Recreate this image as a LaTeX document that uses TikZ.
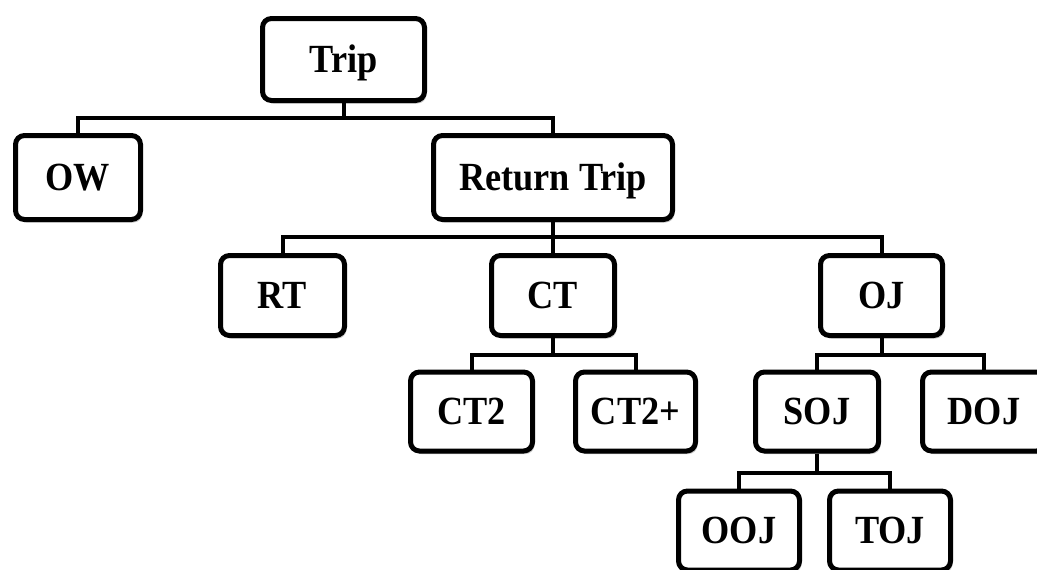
\documentclass[tikz,border=0pt]{standalone}
\usepackage{fontspec}
\usepackage{graphicx}
\setmainfont{Liberation Serif}
\usetikzlibrary{shadows}
\newcommand\boxlbl[1]{\scalebox{0.98}[1.08]{#1}}
\begin{document}
\begin{tikzpicture}[x=1pt,y=-1pt,
  box/.style={draw=black, line width=5pt, rounded corners=9pt, fill=white,
    inner sep=0pt, text height=26.5pt, text depth=0pt,
    font=\fontsize{37}{40}\selectfont\bfseries,
    drop shadow={shadow xshift=2pt, shadow yshift=-3pt, opacity=0.4, fill=black!55}},
  link/.style={draw=black, line width=4pt, line join=miter}]
\useasboundingbox (0,0) rectangle (1037,570);
\clip (0,0) rectangle (1037,570);
% level 1-2
\node[box, minimum width=162pt, minimum height=82pt] (trip) at (343.5,59.5) {\boxlbl{Trip}};
\node[box, minimum width=125pt, minimum height=84pt] (ow) at (78,177.5) {\boxlbl{OW}};
\node[box, minimum width=239pt, minimum height=84pt] (ret) at (553,177.5) {\boxlbl{Return Trip}};
% level 3
\node[box, minimum width=124pt, minimum height=80pt] (rt) at (282.5,295.5) {\boxlbl{RT}};
\node[box, minimum width=123pt, minimum height=80pt] (ct) at (553,295.5) {\boxlbl{CT}};
\node[box, minimum width=122pt, minimum height=80pt] (oj) at (881.5,295.5) {\boxlbl{OJ}};
% level 4
\node[box, minimum width=122pt, minimum height=79pt] (ct2) at (471.5,411.5) {\boxlbl{CT2}};
\node[box, minimum width=120pt, minimum height=79pt] (ct2p) at (635.5,411.5) {\boxlbl{CT2+}};
\node[box, minimum width=123pt, minimum height=79pt] (soj) at (817,411.5) {\boxlbl{SOJ}};
\node[box, minimum width=123pt, minimum height=79pt] (doj) at (984,411.5) {\boxlbl{DOJ}};
% level 5
\node[box, minimum width=121pt, minimum height=79pt] (ooj) at (739,530.5) {\boxlbl{OOJ}};
\node[box, minimum width=121pt, minimum height=79pt] (toj) at (890,530.5) {\boxlbl{TOJ}};
% connectors
\draw[link] (trip.south) -- ++(0,15) -| (ow.north);
\draw[link] (trip.south) -- ++(0,15) -| (ret.north);
\draw[link] (ret.south) -- ++(0,15) -| (rt.north);
\draw[link] (ret.south) -- (ct.north);
\draw[link] (ret.south) -- ++(0,15) -| (oj.north);
\draw[link] (ct.south) -- ++(0,17) -| (ct2.north);
\draw[link] (ct.south) -- ++(0,17) -| (ct2p.north);
\draw[link] (oj.south) -- ++(0,17) -| (soj.north);
\draw[link] (oj.south) -- ++(0,17) -| (doj.north);
\draw[link] (soj.south) -- ++(0,19) -| (ooj.north);
\draw[link] (soj.south) -- ++(0,19) -| (toj.north);
\end{tikzpicture}
\end{document}
